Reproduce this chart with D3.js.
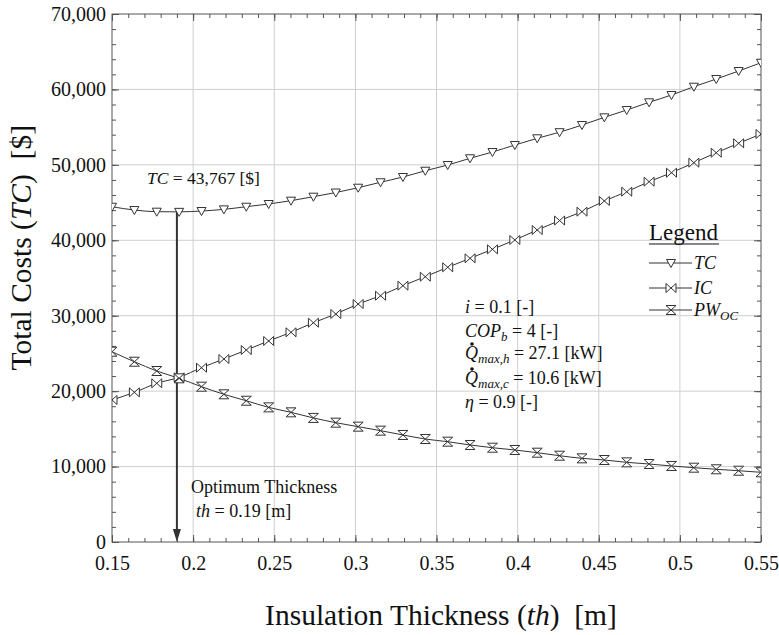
<!DOCTYPE html>
<html>
<head>
<meta charset="utf-8">
<script src="https://cdn.jsdelivr.net/npm/d3@7"></script>
<style>
  body { margin: 0; background: #fff; }
  text { font-family: "Liberation Serif", "Times New Roman", serif; fill: #111; white-space: pre; }
</style>
</head>
<body>
<div id="vizcontainer"></div>
<script>
// sample points along the insulation thickness (m)
const thickness = [0.15, 0.16379, 0.17759, 0.19138, 0.20517, 0.21897, 0.23276, 0.24655, 0.26034, 0.27414,
  0.28793, 0.30172, 0.31552, 0.32931, 0.34310, 0.35690, 0.37069, 0.38448, 0.39828, 0.41207,
  0.42586, 0.43966, 0.45345, 0.46724, 0.48103, 0.49483, 0.50862, 0.52241, 0.53621, 0.55];

const totalCost = [44450, 44010, 43790, 43770, 43880, 44100, 44450, 44810, 45250, 45780,
  46330, 46970, 47690, 48390, 49220, 49980, 50870, 51700, 52630, 53520,
  54330, 55280, 56300, 57270, 58290, 59260, 60360, 61380, 62440, 63540];

const investCost = [18830, 19840, 21040, 21830, 23110, 24260, 25450, 26650, 27800, 29070,
  30230, 31550, 32650, 33980, 35170, 36420, 37610, 38800, 40040, 41360,
  42620, 43790, 45210, 46440, 47770, 48960, 50290, 51610, 52860, 54090];

const pwOperating = [25230, 23900, 22670, 21700, 20590, 19580, 18730, 17850, 17190, 16450,
  15820, 15290, 14760, 14190, 13650, 13300, 12860, 12500, 12200, 11840,
  11440, 11090, 10870, 10560, 10340, 10080, 9850, 9640, 9450, 9240];

const xTicks = [0.15, 0.2, 0.25, 0.3, 0.35, 0.4, 0.45, 0.5, 0.55];
const yTicks = [0, 10000, 20000, 30000, 40000, 50000, 60000, 70000];

const optTh = 0.19, optTC = 43767;

const width = 779,
  height = 635;
const margin = {left: 112, right: 18, top: 14, bottom: 93};

let viz = d3.select('#vizcontainer')
  .append('svg')
  .attr('width', width)
  .attr('height', height);

const x = d3.scaleLinear()
  .domain([0.15, 0.55])
  .range([margin.left, width - margin.right]);

const y = d3.scaleLinear()
  .domain([0, 70000])
  .range([height - margin.bottom, margin.top]);

const x0 = x.range()[0], x1 = x.range()[1];
const y0 = y.range()[0], y1 = y.range()[1];

viz.append('clipPath').attr('id', 'plotclip')
  .append('rect')
  .attr('x', x0).attr('y', y1)
  .attr('width', x1 - x0).attr('height', y0 - y1);

// grid
viz.append('g').selectAll('line')
  .data(xTicks.slice(1, -1))
  .join('line')
  .attr('x1', d => x(d)).attr('x2', d => x(d))
  .attr('y1', y1).attr('y2', y0)
  .attr('stroke', '#cfcfcf').attr('stroke-width', 1);

viz.append('g').selectAll('line')
  .data(yTicks.slice(1, -1))
  .join('line')
  .attr('x1', x0).attr('x2', x1)
  .attr('y1', d => y(d)).attr('y2', d => y(d))
  .attr('stroke', '#cfcfcf').attr('stroke-width', 1);

// axes, ticks pointing inwards on all four sides
const xMinor = d3.range(0.15, 0.5501, 0.01);
const yMinor = d3.range(0, 70001, 2000);

function frameAxis(axisFn, scale, pos, major, minor, fmt, pad) {
  const g = viz.append('g').attr('transform', pos);
  g.append('g').call(axisFn(scale).tickValues(minor).tickSize(-4).tickFormat(''));
  g.append('g').call(axisFn(scale).tickValues(major).tickSize(-7).tickPadding(pad).tickFormat(fmt));
  g.selectAll('.domain').remove();
  g.selectAll('line').attr('stroke', '#555');
  return g;
}

frameAxis(d3.axisBottom, x, `translate(0,${y0})`, xTicks, xMinor, d => String(d), 14);
frameAxis(d3.axisTop, x, `translate(0,${y1})`, xTicks, xMinor, '', 0);
frameAxis(d3.axisLeft, y, `translate(${x0},0)`, yTicks, yMinor, d3.format(','), 6);
frameAxis(d3.axisRight, y, `translate(${x1},0)`, yTicks, yMinor, '', 0);

viz.selectAll('.tick text')
  .attr('font-family', null)
  .style('font-family', '"Liberation Serif", serif')
  .style('font-size', '20px')
  .attr('fill', '#111');

viz.append('rect')
  .attr('x', x0).attr('y', y1)
  .attr('width', x1 - x0).attr('height', y0 - y1)
  .attr('fill', 'none').attr('stroke', '#555').attr('stroke-width', 1);

// marker shapes
const shapes = {
  tri: 'M-4.5,-3.5L4.5,-3.5L0,4.5Z',
  bowtie: 'M-5,-4.5L-5,4.5L5,-4.5L5,4.5Z',
  hourglass: 'M-5,-4.5L5,-4.5L-5,4.5L5,4.5Z'
};

const series = [
  {name: 'TC', values: totalCost, shape: shapes.tri},
  {name: 'IC', values: investCost, shape: shapes.bowtie},
  {name: 'PW', values: pwOperating, shape: shapes.hourglass}
];

const line = d3.line()
  .x((d, i) => x(thickness[i]))
  .y(d => y(d))
  .curve(d3.curveMonotoneX);

const plot = viz.append('g').attr('clip-path', 'url(#plotclip)');

series.forEach(s => {
  plot.append('path')
    .datum(s.values)
    .attr('d', line)
    .attr('fill', 'none')
    .attr('stroke', '#333')
    .attr('stroke-width', 1);
});

// optimum arrow
plot.append('line')
  .attr('x1', x(optTh)).attr('x2', x(optTh))
  .attr('y1', y(optTC)).attr('y2', y(0) - 10)
  .attr('stroke', '#333').attr('stroke-width', 2);
plot.append('path')
  .attr('d', `M${x(optTh) - 4},${y(0) - 13}L${x(optTh) + 4},${y(0) - 13}L${x(optTh)},${y(0)}Z`)
  .attr('fill', '#333');

series.forEach(s => {
  plot.append('g').selectAll('path')
    .data(s.values)
    .join('path')
    .attr('transform', (d, i) => `translate(${x(thickness[i])},${y(d)})`)
    .attr('d', s.shape)
    .attr('fill', '#fff')
    .attr('stroke', '#333')
    .attr('stroke-width', 1);
});

// annotations
const ann = viz.append('g').style('font-size', '18px');

let t = ann.append('text').attr('x', 147).attr('y', 184).style('font-size', '17.5px');
t.append('tspan').style('font-style', 'italic').text('TC');
t.append('tspan').text(' = 43,767 [$]');

ann.append('text').attr('x', 191).attr('y', 493).text('Optimum Thickness');
t = ann.append('text').attr('x', 196).attr('y', 517);
t.append('tspan').style('font-style', 'italic').text('th');
t.append('tspan').text(' = 0.19 [m]');

const px = 465;
t = ann.append('text').attr('x', px).attr('y', 313);
t.append('tspan').style('font-style', 'italic').text('i');
t.append('tspan').text(' = 0.1 [-]');

t = ann.append('text').attr('x', px).attr('y', 337);
t.append('tspan').style('font-style', 'italic').text('COP');
t.append('tspan').style('font-style', 'italic').style('font-size', '13px').attr('dy', 4).text('b');
t.append('tspan').attr('dy', -4).text(' = 4 [-]');

[['h', 359, '27.1'], ['c', 384, '10.6']].forEach(([sub, by, val]) => {
  const q = ann.append('text').attr('x', px).attr('y', by);
  q.append('tspan').style('font-style', 'italic').text('Q');
  q.append('tspan').style('font-style', 'italic').style('font-size', '13px').attr('dy', 4).text('max,' + sub);
  q.append('tspan').attr('dy', -4).text(` = ${val} [kW]`);
  ann.append('circle').attr('cx', px + 7).attr('cy', by - 15).attr('r', 1.8).attr('fill', '#111');
});

t = ann.append('text').attr('x', px).attr('y', 408);
t.append('tspan').style('font-style', 'italic').text('η');
t.append('tspan').text(' = 0.9 [-]');

// legend
const leg = viz.append('g');
leg.append('text').attr('x', 649).attr('y', 240).style('font-size', '23px').text('Legend');
leg.append('line').attr('x1', 649).attr('x2', 719).attr('y1', 244).attr('y2', 244)
  .attr('stroke', '#111').attr('stroke-width', 1.2);

const legRows = [263, 288, 310];
series.forEach((s, i) => {
  const ly = legRows[i];
  leg.append('line').attr('x1', 649).attr('x2', 692).attr('y1', ly).attr('y2', ly)
    .attr('stroke', '#333').attr('stroke-width', 1);
  leg.append('path').attr('transform', `translate(671,${ly})`).attr('d', s.shape)
    .attr('fill', '#fff').attr('stroke', '#333');
  const lt = leg.append('text').attr('x', 694).attr('y', ly + 6).style('font-size', '18px');
  lt.append('tspan').style('font-style', 'italic').text(s.name);
  if (s.name === 'PW') {
    lt.append('tspan').style('font-style', 'italic').style('font-size', '13px').attr('dy', 4).text('OC');
  }
});

// axis titles
t = viz.append('text')
  .attr('x', 441).attr('y', 625)
  .attr('text-anchor', 'middle')
  .style('font-size', '29.5px');
t.append('tspan').text('Insulation Thickness (');
t.append('tspan').style('font-style', 'italic').text('th');
t.append('tspan').text(')  [m]');

t = viz.append('text')
  .attr('transform', 'translate(31,125) rotate(-90)')
  .attr('text-anchor', 'end')
  .style('font-size', '29.5px');
t.append('tspan').text('Total Costs (');
t.append('tspan').style('font-style', 'italic').text('TC');
t.append('tspan').text(')  [$]');
</script>
</body>
</html>
